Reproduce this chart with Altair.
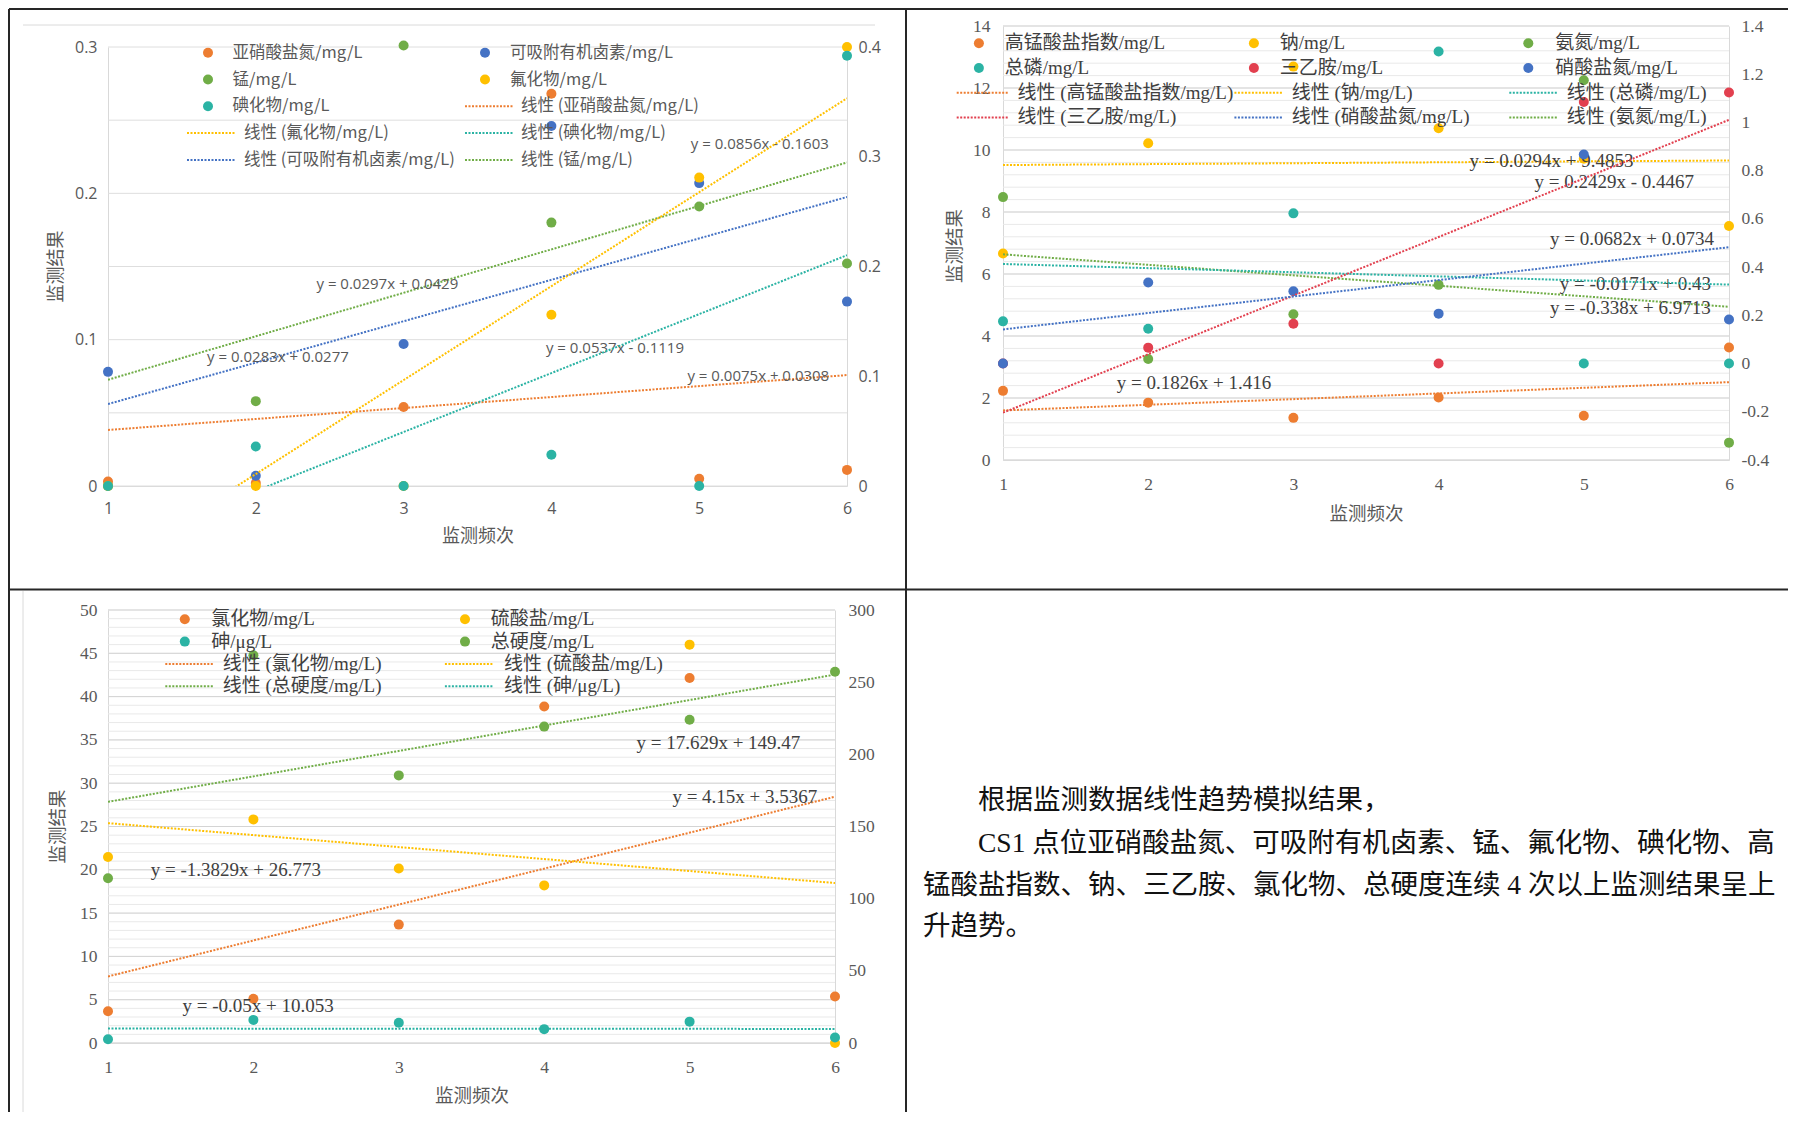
import altair as alt
import pandas as pd

# ---------------- colours & fonts ----------------
ORANGE = "#ED7D31"
BLUE = "#4472C4"
GREEN = "#70AD47"
YELLOW = "#FFC000"
TEAL = "#2BB3A4"
RED = "#E2404F"

SANS = "Open Sans, Noto Sans CJK SC"
CJK = "Noto Sans CJK SC"
SERIF = "Liberation Serif, Noto Sans CJK SC"

X = [1, 2, 3, 4, 5, 6]
TREND_X = [1, 6]
X_TICKS = [1, 2, 3, 4, 5, 6]

# ---------------- chart 1 (top left) ----------------
C1_NAMES = ["亚硝酸盐氮/mg/L", "可吸附有机卤素/mg/L", "锰/mg/L", "氟化物/mg/L", "碘化物/mg/L"]
C1_COLORS = [ORANGE, BLUE, GREEN, YELLOW, TEAL]
C1_SIDE = ["L", "L", "L", "R", "R"]
C1_VALUES = [
    [0.003, 0.002, 0.054, 0.268, 0.005, 0.011],
    [0.078, 0.007, 0.097, 0.246, 0.207, 0.126],
    [0.000, 0.058, 0.301, 0.180, 0.191, 0.152],
    [0.000, 0.000, 0.000, 0.156, 0.281, 0.400],
    [0.000, 0.036, 0.000, 0.0285, 0.000, 0.392],
]
C1_SLOPE = [0.0075, 0.0283, 0.0297, 0.0856, 0.0537]
C1_INTERCEPT = [0.0308, 0.0277, 0.0429, -0.1603, -0.1119]
C1_EQ_TEXT = ["y = 0.0075x + 0.0308", "y = 0.0283x + 0.0277", "y = 0.0297x + 0.0429",
              "y = 0.0856x - 0.1603", "y = 0.0537x - 0.1119"]
C1_EQ_X = [5.40, 2.15, 2.89, 5.41, 4.43]
C1_EQ_Y = [0.0752, 0.0882, 0.138, 0.2337, 0.0943]
C1_LEFT_TICKS = [0, 0.1, 0.2, 0.3]
C1_RIGHT_TICKS = [0, 0.1, 0.2, 0.3, 0.4]
C1_GRID = [0, 0.05, 0.1, 0.15, 0.2, 0.25, 0.3]
C1_LEGEND = [("pt", 0), ("pt", 1), ("pt", 2), ("pt", 3), ("pt", 4),
             ("ln", 0), ("ln", 3), ("ln", 4), ("ln", 1), ("ln", 2)]

# ---------------- chart 2 (top right) ----------------
C2_NAMES = ["高锰酸盐指数/mg/L", "钠/mg/L", "氨氮/mg/L", "总磷/mg/L", "三乙胺/mg/L", "硝酸盐氮/mg/L"]
C2_COLORS = [ORANGE, YELLOW, GREEN, TEAL, RED, BLUE]
C2_SIDE = ["L", "L", "L", "R", "R", "R"]
C2_VALUES = [
    [2.23, 1.85, 1.36, 2.02, 1.43, 3.63],
    [6.66, 10.22, 12.69, 10.70, 9.72, 7.55],
    [8.48, 3.26, 4.70, 5.65, 12.25, 0.56],
    [0.175, 0.144, 0.623, 1.294, 0.0, 0.0],
    [0.0, 0.066, 0.165, 0.0, 1.085, 1.124],
    [0.0, 0.336, 0.300, 0.207, 0.867, 0.183],
]
C2_SLOPE = [0.1826, 0.0294, -0.338, -0.0171, 0.2429, 0.0682]
C2_INTERCEPT = [1.416, 9.4853, 6.9713, 0.43, -0.4467, 0.0734]
C2_EQ_TEXT = ["y = 0.1826x + 1.416", "y = 0.0294x + 9.4853", "y = -0.338x + 6.9713",
              "y = -0.0171x + 0.43", "y = 0.2429x - 0.4467", "y = 0.0682x + 0.0734"]
C2_EQ_X = [2.316, 4.778, 5.32, 5.356, 5.21, 5.332]
C2_EQ_Y = [2.477, 9.66, 4.90, 5.67, 8.96, 7.123]
C2_LEFT_TICKS = [0, 2, 4, 6, 8, 10, 12, 14]
C2_RIGHT_TICKS = [-0.4, -0.2, 0, 0.2, 0.4, 0.6, 0.8, 1.0, 1.2, 1.4]
C2_GRID_MINOR = [round(0.4 * i, 1) for i in range(36)]
C2_GRID_MAJOR = C2_LEFT_TICKS
C2_LEGEND = [("pt", 0), ("pt", 1), ("pt", 2), ("pt", 3), ("pt", 4), ("pt", 5),
             ("ln", 0), ("ln", 1), ("ln", 3), ("ln", 4), ("ln", 5), ("ln", 2)]

# ---------------- chart 3 (bottom left) ----------------
C3_NAMES = ["氯化物/mg/L", "硫酸盐/mg/L", "砷/μg/L", "总硬度/mg/L"]
C3_COLORS = [ORANGE, YELLOW, TEAL, GREEN]
C3_SIDE = ["L", "L", "R", "R"]
C3_VALUES = [
    [3.67, 5.10, 13.67, 38.85, 42.14, 5.37],
    [21.47, 25.82, 20.15, 18.20, 46.0, 0.0],
    [2.6, 16.0, 14.0, 9.6, 14.8, 3.8],
    [114.1, 268.7, 185.4, 219.2, 223.9, 257.2],
]
C3_SLOPE = [4.15, -1.3829, -0.05, 17.629]
C3_INTERCEPT = [3.5367, 26.773, 10.053, 149.47]
C3_EQ_TEXT = ["y = 4.15x + 3.5367", "y = -1.3829x + 26.773", "y = -0.05x + 10.053", "y = 17.629x + 149.47"]
C3_EQ_X = [5.38, 1.879, 2.032, 5.198]
C3_EQ_Y = [28.35, 19.93, 4.29, 34.65]
C3_LEFT_TICKS = [0, 5, 10, 15, 20, 25, 30, 35, 40, 45, 50]
C3_RIGHT_TICKS = [0, 50, 100, 150, 200, 250, 300]
C3_GRID_MINOR = list(range(0, 51))
C3_GRID_MAJOR = C3_LEFT_TICKS
C3_LEGEND = [("pt", 0), ("pt", 1), ("pt", 2), ("pt", 3),
             ("ln", 0), ("ln", 1), ("ln", 3), ("ln", 2)]

# ---------------- text block ----------------
TEXT_LINES = [
    "根据监测数据线性趋势模拟结果，",
    "CS1 点位亚硝酸盐氮、可吸附有机卤素、锰、氟化物、碘化物、高",
    "锰酸盐指数、钠、三乙胺、氯化物、总硬度连续 4 次以上监测结果呈上",
    "升趋势。",
]
TEXT_INDENT = [1, 1, 0, 0]

DASH = [2, 1.5]
LW = 2
PT_SIZE = 100


def points_df(names, colors, sides, values, side):
    rows = []
    for n, c, s, vals in zip(names, colors, sides, values):
        if s != side:
            continue
        for x, v in zip(X, vals):
            rows.append({"s": n, "x": x, "v": v, "c": c})
    return pd.DataFrame(rows)


def trend_df(names, colors, sides, slopes, intercepts, side):
    rows = []
    for n, c, s, a, b in zip(names, colors, sides, slopes, intercepts):
        if s != side:
            continue
        for x in TREND_X:
            rows.append({"s": n, "x": x, "v": b + a * x, "c": c})
    return pd.DataFrame(rows)


def legend_layers(items, names, colors, ncols, row_y, pt_cx, pt_tx, ln_x1, ln_x2, ln_tx,
                  font, size, tcolor):
    pts, lns, txt = [], [], []
    for i, (kind, k) in enumerate(items):
        r, c = divmod(i, ncols)
        y = row_y[r]
        if kind == "pt":
            pts.append({"px": pt_cx[c], "py": y, "c": colors[k]})
            txt.append({"px": pt_tx[c], "py": y, "t": names[k]})
        else:
            lns.append({"px": ln_x1[c], "px2": ln_x2[c], "py": y, "c": colors[k]})
            txt.append({"px": ln_tx[c], "py": y, "t": "线性 (" + names[k] + ")"})
    px = alt.X("px:Q", scale=None, axis=None)
    py = alt.Y("py:Q", scale=None, axis=None)
    col = alt.Color("c:N", scale=None, legend=None)
    l1 = alt.Chart(pd.DataFrame(pts)).mark_circle(size=PT_SIZE, opacity=1).encode(x=px, y=py, color=col)
    l2 = alt.Chart(pd.DataFrame(lns)).mark_rule(strokeWidth=LW, strokeDash=DASH).encode(
        x=px, x2="px2:Q", y=py, color=col)
    l3 = alt.Chart(pd.DataFrame(txt)).mark_text(
        align="left", baseline="middle", font=font, fontSize=size, color=tcolor).encode(
        x=px, y=py, text="t:N")
    return [l1, l2, l3]


def make_panel(p):
    W, H = p["w"], p["h"]
    xs = alt.Scale(domain=[1, 6], nice=False, zero=False)
    ysl = alt.Scale(domain=p["ldom"], range=p["yrange"], nice=False, zero=False)
    ysr = alt.Scale(domain=p["rdom"], range=p["yrange"], nice=False, zero=False)
    st = p["style"]

    left_axis = alt.Axis(
        orient="left", values=p["lticks"], labelExpr=p["lexpr"], grid=False, ticks=False,
        labelFlush=False, labelOverlap=False,
        domainColor="#D9D9D9", labelColor="#595959", labelFont=st["tick_font"],
        labelFontSize=st["tick_size"], labelPadding=p["lpad"],
        title="监测结果", titleFont=CJK, titleFontSize=st["title_size"], titleFontWeight="normal",
        titleColor="#595959", titleAngle=270, titleX=p["ytitle"][0], titleY=p["ytitle"][1],
        titleAlign="center", titleBaseline="middle")
    right_axis = alt.Axis(
        orient="right", values=p["rticks"], labelExpr=p["rexpr"], grid=False, ticks=False,
        labelFlush=False, labelOverlap=False,
        domainColor="#D9D9D9", labelColor="#595959", labelFont=st["tick_font"],
        labelFontSize=st["tick_size"], labelPadding=p["rpad"], title="")
    x_axis = alt.Axis(
        orient="bottom", values=X_TICKS, format="d", grid=False, ticks=False,
        labelFlush=False, labelOverlap=False,
        domainColor="#D9D9D9", labelColor="#595959", labelFont=st["tick_font"],
        labelFontSize=st["tick_size"], labelPadding=p["xpad"],
        title="监测频次", titleFont=CJK, titleFontSize=st["title_size"], titleFontWeight="normal",
        titleColor="#595959", titleY=p["xtitle_y"], titleBaseline="middle")

    col = alt.Color("c:N", scale=None, legend=None)

    grid_minor = alt.Chart(pd.DataFrame({"g": p["grid_minor"]})).mark_rule(
        color=p["grid_minor_color"], strokeWidth=1).encode(
        y=alt.Y("g:Q", scale=ysl, axis=left_axis), x=alt.value(0), x2=alt.value(W))
    left_layers = [grid_minor]
    if p["grid_major"]:
        left_layers.append(alt.Chart(pd.DataFrame({"g": p["grid_major"]})).mark_rule(
            color="#D4D4D4", strokeWidth=1).encode(
            y=alt.Y("g:Q", scale=ysl), x=alt.value(0), x2=alt.value(W)))

    lp = points_df(p["names"], p["colors"], p["sides"], p["values"], "L")
    lt = trend_df(p["names"], p["colors"], p["sides"], p["slopes"], p["intercepts"], "L")
    rp = points_df(p["names"], p["colors"], p["sides"], p["values"], "R")
    rt = trend_df(p["names"], p["colors"], p["sides"], p["slopes"], p["intercepts"], "R")

    left_layers.append(alt.Chart(lp).mark_circle(size=PT_SIZE, opacity=1).encode(
        x=alt.X("x:Q", scale=xs, axis=x_axis), y=alt.Y("v:Q", scale=ysl), color=col))
    left_layers.append(alt.Chart(lt).mark_line(clip=True, strokeWidth=LW, strokeDash=DASH).encode(
        x=alt.X("x:Q", scale=xs), y=alt.Y("v:Q", scale=ysl), detail="s:N", color=col))
    eq = pd.DataFrame({"x": p["eq_x"], "y": p["eq_y"], "t": p["eq_text"]})
    left_layers.append(alt.Chart(eq).mark_text(
        align="center", baseline="middle", font=st["eq_font"], fontSize=st["eq_size"],
        color=st["eq_color"]).encode(
        x=alt.X("x:Q", scale=xs), y=alt.Y("y:Q", scale=ysl), text="t:N"))
    left = alt.layer(*left_layers)

    right = alt.layer(
        alt.Chart(rp).mark_circle(size=PT_SIZE, opacity=1).encode(
            x=alt.X("x:Q", scale=xs), y=alt.Y("v:Q", scale=ysr, axis=right_axis), color=col),
        alt.Chart(rt).mark_line(clip=True, strokeWidth=LW, strokeDash=DASH).encode(
            x=alt.X("x:Q", scale=xs), y=alt.Y("v:Q", scale=ysr), detail="s:N", color=col),
    )
    lg = p["legend"]
    leg = legend_layers(p["legend_items"], p["names"], p["colors"], lg["ncols"], lg["rows"],
                        lg["pt_cx"], lg["pt_tx"], lg["ln_x1"], lg["ln_x2"], lg["ln_tx"],
                        st["leg_font"], st["leg_size"], st["leg_color"])
    layers = [left, right] + leg + p.get("extras", [])
    return alt.layer(*layers).resolve_scale(y="independent").properties(width=W, height=H)


FMT_G = "format(datum.value, '~g')"
FMT_D = "format(datum.value, 'd')"
FMT_1 = "replace(format(datum.value, '.1~f'), '\u2212', '-')"

STYLE1 = dict(tick_font=SANS, tick_size=16, title_size=18, eq_font=SANS, eq_size=15,
              eq_color="#595959", leg_font=CJK, leg_size=16.5, leg_color="#595959")
STYLE23 = dict(tick_font=SERIF, tick_size=17.5, title_size=18.5, eq_font=SERIF, eq_size=19,
               eq_color="#404040", leg_font=SERIF, leg_size=19, leg_color="#404040")

# table frame (pixel offsets from the top-left of chart 1's plot area)
FRAME = pd.DataFrame([
    {"x": -99, "x2": -99, "y": -17, "y2": 1086, "c": "#262626", "w": 2},
    {"x": -99, "x2": 1680, "y": -17, "y2": -17, "c": "#262626", "w": 2},
    {"x": 798, "x2": 798, "y": -17, "y2": 1086, "c": "#262626", "w": 2},
    {"x": -99, "x2": 1680, "y": 563.5, "y2": 563.5, "c": "#262626", "w": 2},
    {"x": -85, "x2": 767, "y": -1, "y2": -1, "c": "#DADADA", "w": 1},
    {"x": -85, "x2": -85, "y": 565, "y2": 1086, "c": "#DADADA", "w": 1},
])
frame_layer = alt.Chart(FRAME).mark_rule().encode(
    x=alt.X("x:Q", scale=None, axis=None), x2="x2:Q",
    y=alt.Y("y:Q", scale=None, axis=None), y2="y2:Q",
    color=alt.Color("c:N", scale=None, legend=None),
    strokeWidth=alt.StrokeWidth("w:Q", scale=None, legend=None))

P1 = dict(
    w=739, h=460, yrange=[460, 21], ldom=[0, 0.3], rdom=[0, 0.4],
    names=C1_NAMES, colors=C1_COLORS, sides=C1_SIDE, values=C1_VALUES,
    slopes=C1_SLOPE, intercepts=C1_INTERCEPT,
    eq_text=C1_EQ_TEXT, eq_x=C1_EQ_X, eq_y=C1_EQ_Y,
    lticks=C1_LEFT_TICKS, rticks=C1_RIGHT_TICKS, lexpr=FMT_G, rexpr=FMT_G,
    lpad=11, rpad=11, xpad=14, ytitle=(-52, 240), xtitle_y=50,
    grid_minor=C1_GRID, grid_minor_color="#DEDEDE", grid_major=None,
    legend_items=C1_LEGEND,
    legend=dict(ncols=2, rows=[26.7, 53.5, 80.3, 107.1, 133.9],
                pt_cx=[100, 377], pt_tx=[124.5, 402], ln_x1=[79, 357], ln_x2=[127, 406],
                ln_tx=[136, 413]),
    style=STYLE1, extras=[frame_layer])

P2 = dict(
    w=726, h=434, yrange=[434, 0], ldom=[0, 14], rdom=[-0.4, 1.4],
    names=C2_NAMES, colors=C2_COLORS, sides=C2_SIDE, values=C2_VALUES,
    slopes=C2_SLOPE, intercepts=C2_INTERCEPT,
    eq_text=C2_EQ_TEXT, eq_x=C2_EQ_X, eq_y=C2_EQ_Y,
    lticks=C2_LEFT_TICKS, rticks=C2_RIGHT_TICKS, lexpr=FMT_D, rexpr=FMT_1,
    lpad=13, rpad=12, xpad=15.5, ytitle=(-48.5, 219.4), xtitle_y=53,
    grid_minor=C2_GRID_MINOR, grid_minor_color="#E9E9E9", grid_major=C2_GRID_MAJOR,
    legend_items=C2_LEGEND,
    legend=dict(ncols=3, rows=[17.3, 42.0, 66.7, 91.4],
                pt_cx=[-24.1, 250.9, 525.3], pt_tx=[1.7, 276.7, 552.3],
                ln_x1=[-46.3, 231.4, 506.3], ln_x2=[5.7, 280.2, 555.1],
                ln_tx=[14.4, 288.7, 563.7]),
    style=STYLE23)

P3 = dict(
    w=727, h=433, yrange=[433, 0], ldom=[0, 50], rdom=[0, 300],
    names=C3_NAMES, colors=C3_COLORS, sides=C3_SIDE, values=C3_VALUES,
    slopes=C3_SLOPE, intercepts=C3_INTERCEPT,
    eq_text=C3_EQ_TEXT, eq_x=C3_EQ_X, eq_y=C3_EQ_Y,
    lticks=C3_LEFT_TICKS, rticks=C3_RIGHT_TICKS, lexpr=FMT_D, rexpr=FMT_D,
    lpad=11, rpad=13, xpad=15, ytitle=(-50.6, 216), xtitle_y=52.5,
    grid_minor=C3_GRID_MINOR, grid_minor_color="#E9E9E9", grid_major=C3_GRID_MAJOR,
    legend_items=C3_LEGEND,
    legend=dict(ncols=2, rows=[9.3, 31.6, 53.9, 76.2],
                pt_cx=[76.8, 357], pt_tx=[103.3, 382.8], ln_x1=[57.3, 336.9], ln_x2=[106, 385.7],
                ln_tx=[114.7, 396]),
    style=STYLE23)

panel1 = make_panel(P1)
panel2 = make_panel(P2)
panel3 = make_panel(P3)

# text panel (offsets relative to its own top-left corner)
TEXT_FONT = 27.5
text_df = pd.DataFrame({
    "t": TEXT_LINES,
    "px": [-80 + TEXT_FONT * 2 * ind for ind in TEXT_INDENT],
    "py": [190.5, 234, 275.7, 317.4],
})
text_panel = alt.Chart(text_df).mark_text(
    align="left", baseline="middle", font=SERIF, fontSize=TEXT_FONT, color="#111111").encode(
    x=alt.X("px:Q", scale=None, axis=None), y=alt.Y("py:Q", scale=None, axis=None), text="t:N"
).properties(width=726, height=433)

chart = alt.concat(
    panel1, panel2, panel3, text_panel,
    columns=2, spacing={"row": 124, "column": 156}, bounds="flush",
    padding=0, background="white",
).configure_view(stroke=None)

chart.save("out.html", embed_options={"renderer": "svg", "actions": False})
